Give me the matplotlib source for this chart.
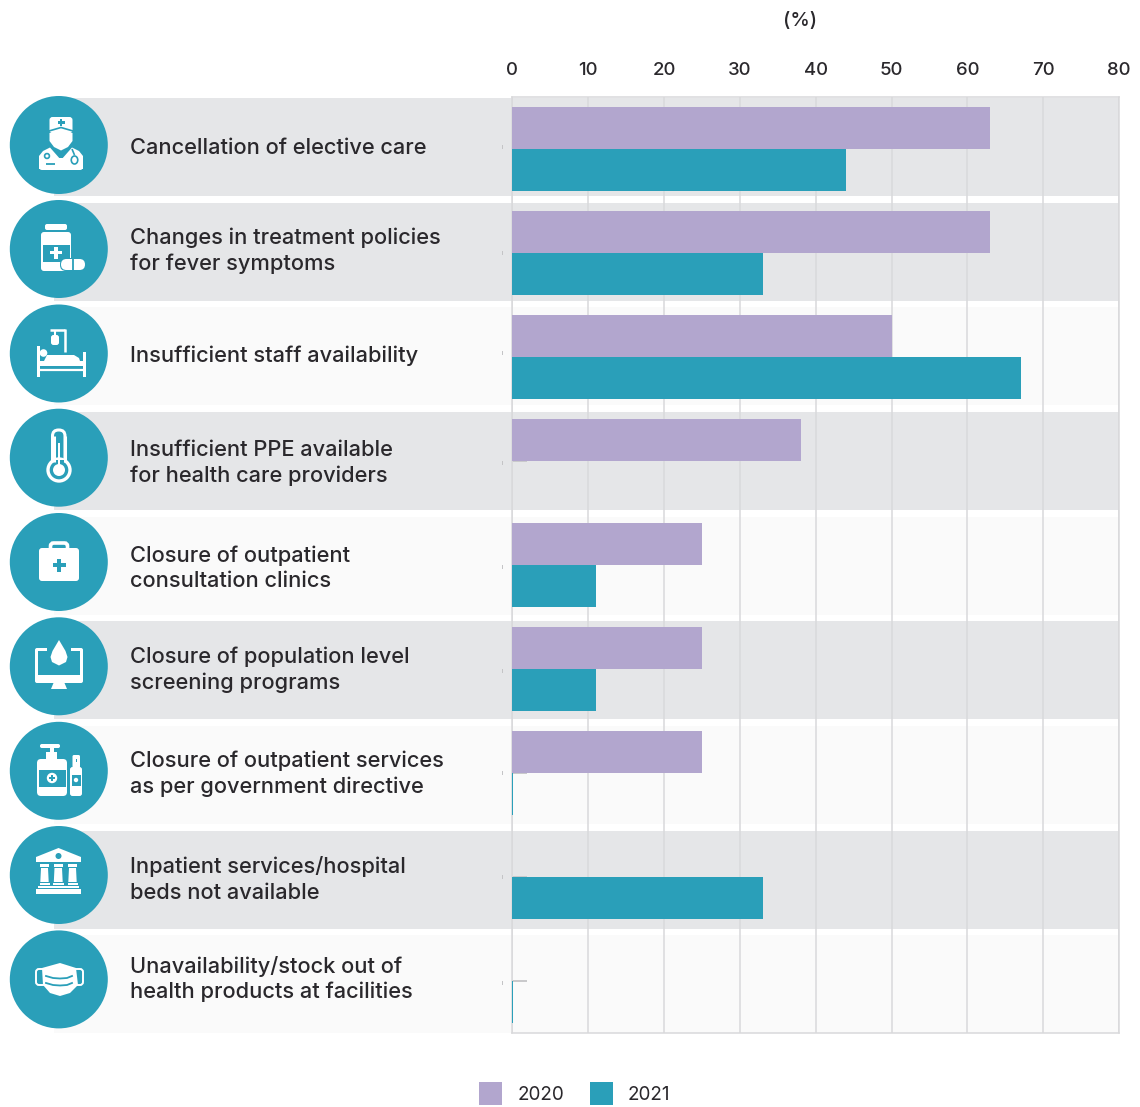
import matplotlib
matplotlib.use("Agg")
import matplotlib.pyplot as plt
from matplotlib.patches import Circle, Rectangle, Polygon, FancyBboxPatch, Ellipse

categories = [
    "Cancellation of elective care",
    "Changes in treatment policies\nfor fever symptoms",
    "Insufficient staff availability",
    "Insufficient PPE available\nfor health care providers",
    "Closure of outpatient\nconsultation clinics",
    "Closure of population level\nscreening programs",
    "Closure of outpatient services\nas per government directive",
    "Inpatient services/hospital\nbeds not available",
    "Unavailability/stock out of\nhealth products at facilities",
]
values_2020 = [63, 63, 50, 38, 25, 25, 25, 0, 0]
values_2021 = [44, 33, 67, 0, 11, 11, 0.15, 33, 0.15]
faint_marks = [0, 0, 0, 2, 0, 0, 2, 2, 2]
x_ticks = [0, 10, 20, 30, 40, 50, 60, 70, 80]
legend_years = ["2020", "2021"]

PURPLE = "#B2A6CE"
TEAL = "#2A9FB9"
DARK = "#2A282C"
GRID = "#D9D9DB"
BANDS = ["#E5E6E8", "#E5E6E8", "#FAFAFA", "#E5E6E8", "#FAFAFA", "#E5E6E8", "#FAFAFA", "#E5E6E8", "#FAFAFA"]
band_tops = [98, 203, 307, 412, 517, 621, 726, 831, 935]
circle_y = [145, 249, 353.5, 457.7, 562, 666.3, 770.8, 875, 979.4]
label_y = [147.5, 250.5, 355.5, 463, 568, 670, 774, 879.5, 979]
tick_y = [147, 253, 353, 463, 567, 671, 773, 877, 983]

plt.rcParams["font.family"] = ["Inter", "DejaVu Sans"]
W, H = 1140, 1107
fig = plt.figure(figsize=(W / 100, H / 100), dpi=100, facecolor="white")

bg = fig.add_axes([0, 0, 1, 1], zorder=0)
bg.set_xlim(0, W); bg.set_ylim(H, 0); bg.axis("off")
fg = fig.add_axes([0, 0, 1, 1], zorder=3)
fg.set_xlim(0, W); fg.set_ylim(H, 0); fg.axis("off"); fg.patch.set_alpha(0)

for top, c in zip(band_tops, BANDS):
    bg.add_patch(Rectangle((54, top), 1065, 98, fc=c, ec="none"))
for y in tick_y:
    bg.add_patch(Rectangle((501.5, y - 2), 1, 4, fc="#C4C4C6", ec="none"))

ax = fig.add_axes([512.2 / W, 1 - 1033 / H, (1119.2 - 512.2) / W, (1033 - 97) / H], zorder=2)
ax.patch.set_alpha(0)
ax.set_xlim(0, 80)
ax.set_ylim(8.5, -0.5)
ys = list(range(len(categories)))
bar_h = 42 / 104
ax.set_axisbelow(True)
ax.grid(axis="x", color=GRID, lw=1.1)
ax.barh(ys, faint_marks, height=0.022, color="#C9C9CB", zorder=2)
ax.barh([y - bar_h / 2 for y in ys], values_2020, height=bar_h, color=PURPLE, zorder=3)
ax.barh([y + bar_h / 2 for y in ys], values_2021, height=bar_h, color=TEAL, zorder=3)
ax.set_xticks(x_ticks)
ax.xaxis.tick_top()
ax.tick_params(axis="x", length=0, pad=13, labelsize=13.4, labelcolor=DARK)
for t in ax.get_xticklabels():
    t.set_fontweight(500)
ax.set_yticks([])
for s in ax.spines.values():
    s.set_color(GRID); s.set_linewidth(1.1)

fig.text(800.5 / W, 1 - 21 / H, "(%)", ha="center", va="center", fontsize=14.2, color=DARK, weight=500)

for lab, y in zip(categories, label_y):
    fg.text(130.5, y, lab, ha="left", va="center", fontsize=15.7, color=DARK, linespacing=1.32, weight=500)

fg.add_patch(Rectangle((479, 1082), 23, 23, fc=PURPLE, ec="none"))
fg.add_patch(Rectangle((590, 1082), 23, 23, fc=TEAL, ec="none"))
fg.text(517.5, 1095.5, legend_years[0], va="center", fontsize=13.6, color=DARK)
fg.text(628, 1094.5, legend_years[1], va="center", fontsize=13.6, color=DARK)

# --- decorative icons ---
WH = "white"
def rect(x0, y0, x1, y1, c=WH, r=0, z=5):
    if r:
        fg.add_patch(FancyBboxPatch((x0 + r, y0 + r), x1 - x0 - 2 * r, y1 - y0 - 2 * r,
                                    boxstyle=f"round,pad={r},rounding_size={r}", fc=c, ec="none", zorder=z))
    else:
        fg.add_patch(Rectangle((x0, y0), x1 - x0, y1 - y0, fc=c, ec="none", zorder=z))
def circ(x, y, r, c=WH, z=6):
    fg.add_patch(Circle((x, y), r, fc=c, ec="none", zorder=z))
def poly(pts, c=WH, z=5):
    fg.add_patch(Polygon(pts, closed=True, fc=c, ec="none", zorder=z))
def line(xs, ys_, c=WH, lw=1.5, z=6):
    fg.plot(xs, ys_, color=c, lw=lw, solid_capstyle="butt", zorder=z)
def cross(x, y, s, t, c=WH, z=7):
    rect(x - s / 2, y - t / 2, x + s / 2, y + t / 2, c, z=z)
    rect(x - t / 2, y - s / 2, x + t / 2, y + s / 2, c, z=z)

for y in circle_y:
    fg.add_patch(Circle((58.8, y), 49, fc=TEAL, ec="none", zorder=4))

# doctor
rect(49.5, 117, 72.5, 133, r=3)
cross(61, 122.5, 7, 2.2, TEAL)
poly([(49.5, 133), (61, 129.5), (72.5, 133), (72.5, 141), (68, 147), (61, 150.5), (54, 147), (49.5, 141)])
line([49, 61, 73], [131, 127.5, 131], TEAL, 1.2)
poly([(39, 169), (39, 156), (43, 151), (50, 147.5), (61, 160), (72, 147.5), (79, 151), (83, 156), (83, 169)])
rect(39, 158, 83, 170, r=3)
fg.add_patch(Circle((47, 156), 2.4, fc=WH, ec=TEAL, lw=1.2, zorder=7))
line([46, 55], [164, 164], TEAL, 1.3)
fg.add_patch(Ellipse((74.5, 160), 6.5, 8, fc=WH, ec=TEAL, lw=1.2, zorder=7))
line([74.5, 72], [155, 149], TEAL, 1.2)

# medicine bottle
rect(45, 224, 67, 230, r=2)
rect(41, 232, 71, 271, r=3)
rect(43, 245, 70, 262, TEAL, z=6)
cross(56, 252.5, 12, 3.6)
rect(60, 258, 86, 271, TEAL, r=6, z=6)
rect(61, 259, 85, 270, r=5.5, z=7)
line([73, 73], [259, 270], TEAL, 1.3, z=8)

# bed
line([64.5, 64.5], [329, 352], lw=1.8)
line([50, 65], [330, 330], lw=1.8)
rect(51, 335, 59, 345, r=2.5)
line([55, 55], [330, 335], lw=1.5)
rect(37, 346, 40, 377)
rect(83, 352, 86, 377)
rect(38, 361, 85, 366)
line([38, 85], [370, 370], lw=1.6)
circ(43.5, 353, 3.8)
poly([(47, 355), (74, 355), (79, 358), (80, 361), (44, 361)])

# thermometer
fg.add_patch(FancyBboxPatch((52.5 + 6, 430 + 6), 0.5, 34, boxstyle="round,pad=6,rounding_size=6",
                            fc=TEAL, ec=WH, lw=2.2, zorder=5))
fg.add_patch(Circle((59, 470), 11, fc=TEAL, ec=WH, lw=2.4, zorder=6))
rect(54.5, 460, 63.5, 466, TEAL, z=7)
line([53.5, 53.5], [436, 462], lw=2.2, z=8)
line([64.5, 64.5], [436, 462], lw=2.2, z=8)
rect(57.6, 443, 60.4, 470, z=8)
circ(59, 470, 6, z=8)

# briefcase
fg.add_patch(FancyBboxPatch((50.5, 543), 17, 8, boxstyle="round,pad=0,rounding_size=3",
                            fc="none", ec=WH, lw=2.6, zorder=5))
rect(39, 548, 79, 581, r=3, z=6)
cross(59, 565, 13, 4, TEAL)

# monitor
rect(35, 648, 83, 683, r=2)
rect(38, 651, 80, 675, TEAL, z=6)
rect(47, 647, 71, 651, TEAL, z=6)
poly([(59, 640), (65.5, 651), (67.5, 657), (66, 662), (59, 665.5), (52, 662), (50.5, 657), (52.5, 651)], z=7)
poly([(53.5, 683), (64.5, 683), (67, 689), (51, 689)])

# soap
rect(40, 744, 60, 748, r=1.8)
rect(50, 748, 54, 753)
rect(46, 752, 57, 760)
rect(37, 759, 67, 796, r=4)
rect(38.5, 770, 65.5, 787, TEAL, z=6)
circ(52, 778, 5.2, z=7)
cross(52, 778, 6, 2, TEAL, z=8)
rect(72.5, 755, 80, 768, r=1.5)
rect(75.5, 759, 77, 762, TEAL, z=7)
rect(70, 767, 82, 796, r=2.5)
rect(71.5, 775, 80.5, 786, TEAL, z=6)
circ(76, 780, 2.2, z=7)

# building
poly([(36, 857), (58.5, 848), (81, 857), (81, 862), (36, 862)])
circ(58.5, 856, 3, TEAL, z=7)
for a, b in [(40, 49), (53.5, 63), (68, 77)]:
    rect(a, 864, b, 867)
    poly([(a + 1, 868), (b - 1, 868), (b - 0.3, 882), (a + 0.3, 882)])
    rect(a - 0.5, 883, b + 0.5, 885)
rect(38, 886, 79, 888)
rect(36, 889, 81, 894)

# mask
poly([(42, 968), (60, 963), (76, 968), (78, 985), (70, 993), (60, 996), (50, 993), (43, 985)])
fg.add_patch(FancyBboxPatch((36, 969), 10, 16, boxstyle="round,pad=0,rounding_size=3",
                            fc="none", ec=WH, lw=1.4, zorder=4.5))
fg.add_patch(FancyBboxPatch((73, 969), 10, 16, boxstyle="round,pad=0,rounding_size=3",
                            fc="none", ec=WH, lw=1.4, zorder=4.5))
fg.plot([46, 53, 60, 67, 72], [976, 978, 978.5, 978, 976], color=TEAL, lw=1.3, zorder=7)
fg.plot([46, 53, 60, 67, 72], [983, 985, 985.5, 985, 983], color=TEAL, lw=1.3, zorder=7)

fig.savefig("out.png", dpi=100, facecolor="white")
